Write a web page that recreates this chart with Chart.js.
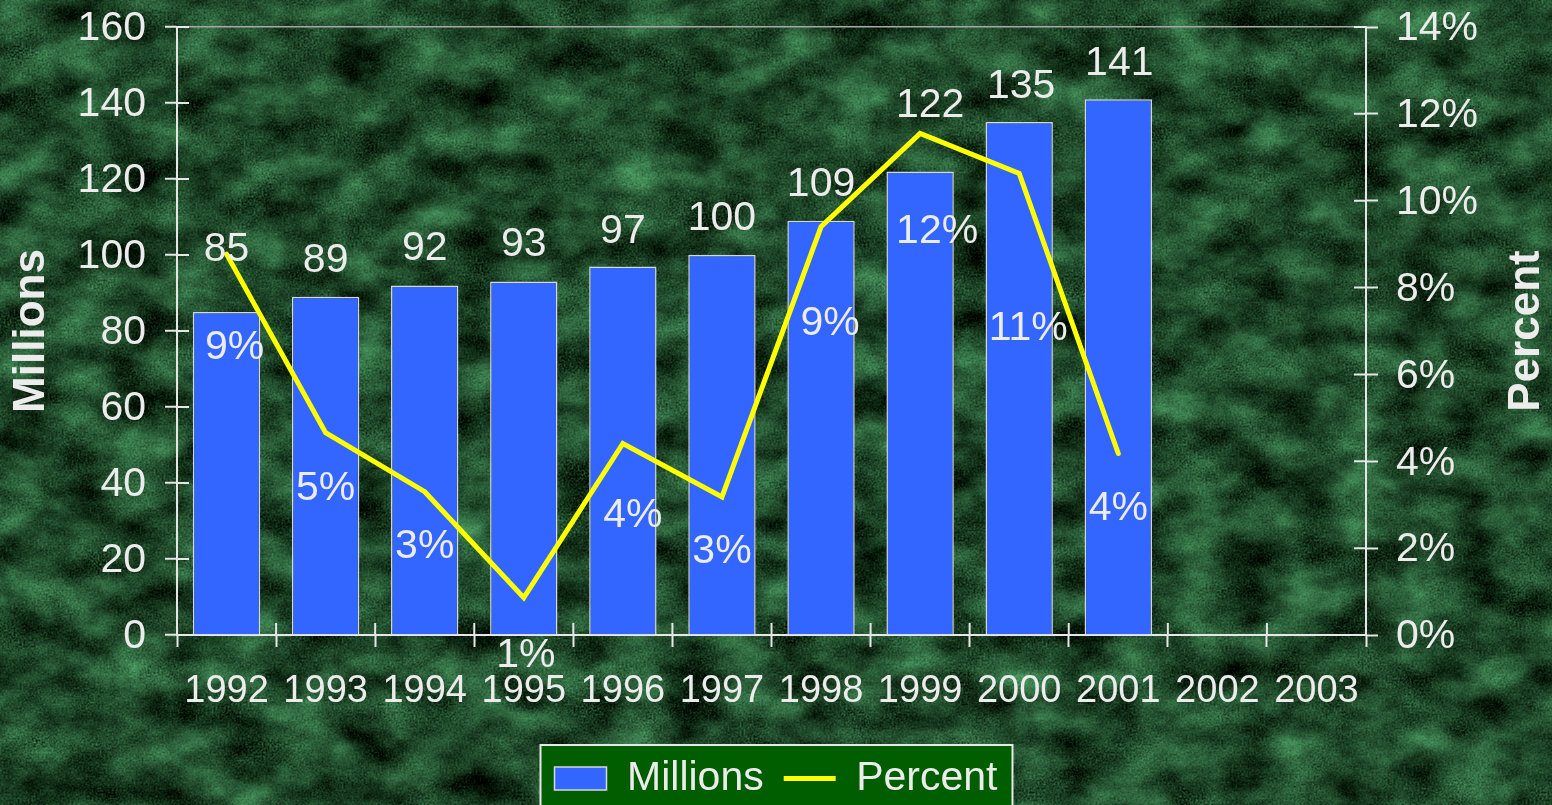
<!DOCTYPE html>
<html>
<head>
<meta charset="utf-8">
<title>Millions and Percent, 1992-2003</title>
<script src="https://cdn.jsdelivr.net/npm/chart.js@4.4.1/dist/chart.umd.min.js"></script>
<style>
  html, body { margin: 0; padding: 0; overflow: hidden; background: #1d4a2c; }
  #wrap { width: 1552px; height: 805px; background-size: 1552px 805px; }
  canvas { display: block; }
</style>
</head>
<body>
<div id="wrap"><canvas id="chart" width="1552" height="805"></canvas></div>
<script>
// categories and series
var years = ["1992", "1993", "1994", "1995", "1996", "1997", "1998", "1999", "2000", "2001", "2002", "2003"];
var millions = [85, 89, 92, 93, 97, 100, 109, 122, 135, 141, null, null];
var percent = [8.77, 4.66, 3.3, 0.86, 4.41, 3.18, 9.4, 11.55, 10.63, 4.18, null, null];

// axis ranges
var millionsAxis = [0, 160, 20];
var percentAxis = [0, 14, 2];

// label nudges in px (value labels sit above bars, percent labels below points)
var millionsLabelDx = [0, 0, 0, 0, 0, 0, 0, 10, 2, 1];
var millionsLabelDy = [-62, -36, -37, -37, -35, -36, -36, -66, -35, -36];
var percentLabelDx = [8, 0, 0, 2, 10, 0, 9, 17, 9, 0];
var percentLabelDy = [94, 56, 55, 58, 72, 55, 97, 98, 155, 55];

var TEXT = "#ececec";
var AXIS = "#e6e6e6";
var FONT = "'Liberation Sans', Arial, sans-serif";

Chart.defaults.font.family = FONT;
Chart.defaults.font.size = 38;
Chart.defaults.color = TEXT;

// marble texture for the page background
var marble =
  "<svg xmlns='http://www.w3.org/2000/svg' width='1552' height='805'>" +
  "<filter id='m' x='0' y='0' width='100%' height='100%' color-interpolation-filters='sRGB'>" +
  "<feTurbulence type='fractalNoise' baseFrequency='0.018 0.026' numOctaves='5' seed='11' result='a'/>" +
  "<feTurbulence type='fractalNoise' baseFrequency='0.5' numOctaves='2' seed='4' result='b'/>" +
  "<feComposite in='a' in2='b' operator='arithmetic' k2='0.7' k3='0.35' k4='-0.03' result='c'/>" +
  "<feColorMatrix in='c' type='matrix' values='0.5 0 0 0 -0.11  0.95 0 0 0 -0.16  0.65 0 0 0 -0.14  0 0 0 0 1'/>" +
  "</filter><rect width='100%' height='100%' filter='url(#m)'/></svg>";
document.getElementById("wrap").style.backgroundImage =
  'url("data:image/svg+xml,' + encodeURIComponent(marble) + '")';

// green box behind the legend
var legendBox = {
  id: "legendBox",
  beforeDraw: function(chart) {
    var boxes = chart.legend.legendHitBoxes;
    if (!boxes || !boxes.length) return;
    var first = boxes[0], last = boxes[boxes.length - 1];
    var left = first.left - 14;
    var right = last.left + last.width + 15;
    var top = first.top - 13;
    var ctx = chart.ctx;
    ctx.save();
    ctx.fillStyle = "#005e00";
    ctx.fillRect(left, top, right - left, chart.height - top + 10);
    ctx.strokeStyle = "#e8e8e8";
    ctx.lineWidth = 2;
    ctx.strokeRect(left, top, right - left, chart.height - top + 10);
    ctx.restore();
  }
};

// tick marks crossing into the plot, right axis title, value labels
var chartExtras = {
  id: "chartExtras",
  afterDatasetsDraw: function(chart) {
    var ctx = chart.ctx;
    var area = chart.chartArea;
    var x = chart.scales.x, y = chart.scales.y, y1 = chart.scales.y1;
    ctx.save();
    ctx.strokeStyle = AXIS;
    ctx.lineWidth = 2;
    ctx.beginPath();
    y.ticks.forEach(function(t, i) {
      var py = y.getPixelForTick(i);
      ctx.moveTo(area.left, py); ctx.lineTo(area.left + 12, py);
    });
    y1.ticks.forEach(function(t, i) {
      var py = y1.getPixelForTick(i);
      ctx.moveTo(area.right - 12, py); ctx.lineTo(area.right, py);
    });
    for (var k = 0; k <= years.length; k++) {
      var px = x.getPixelForValue(k - 0.5);
      ctx.moveTo(px, area.bottom - 12); ctx.lineTo(px, area.bottom);
    }
    ctx.stroke();

    ctx.font = "41px " + FONT;
    ctx.fillStyle = TEXT;
    ctx.textAlign = "center";
    ctx.textBaseline = "middle";
    chart.getDatasetMeta(0).data.forEach(function(bar, i) {
      if (millions[i] == null) return;
      ctx.fillText(String(millions[i]), bar.x + millionsLabelDx[i], bar.y + millionsLabelDy[i]);
    });
    chart.getDatasetMeta(1).data.forEach(function(pt, i) {
      if (percent[i] == null) return;
      ctx.fillText(Math.round(percent[i]) + "%", pt.x + percentLabelDx[i], pt.y + percentLabelDy[i]);
    });
    ctx.restore();
  },
  afterDraw: function(chart) {
    var ctx = chart.ctx;
    var area = chart.chartArea;
    ctx.save();
    ctx.font = "bold 44px " + FONT;
    ctx.fillStyle = TEXT;
    ctx.textAlign = "center";
    ctx.textBaseline = "middle";
    ctx.translate(chart.width - 25, (area.top + area.bottom) / 2);
    ctx.rotate(-Math.PI / 2);
    ctx.fillText("Percent", 0, 0);
    ctx.restore();
  }
};

new Chart(document.getElementById("chart"), {
  type: "bar",
  data: {
    labels: years,
    datasets: [
      {
        label: "Millions",
        data: millions,
        yAxisID: "y",
        order: 2,
        backgroundColor: "#3366ff",
        borderColor: "#d8d8d8",
        borderWidth: 1.5,
        categoryPercentage: 0.68,
        barPercentage: 1
      },
      {
        type: "line",
        label: "Percent",
        data: percent,
        yAxisID: "y1",
        order: 1,
        borderColor: "#ffff00",
        backgroundColor: "#ffff00",
        borderWidth: 5,
        borderCapStyle: "round",
        pointRadius: 0,
        tension: 0,
        fill: false
      }
    ]
  },
  options: {
    responsive: false,
    animation: false,
    layout: { padding: { top: 27, left: 0, right: 0, bottom: -4 } },
    plugins: {
      tooltip: { enabled: false },
      legend: {
        position: "bottom",
        labels: {
          color: TEXT,
          font: { size: 41 },
          padding: 20,
          usePointStyle: true,
          pointStyleWidth: 52,
          boxHeight: 23,
          sort: function(a, b) { return a.datasetIndex - b.datasetIndex; },
          generateLabels: function(chart) {
            var items = Chart.defaults.plugins.legend.labels.generateLabels(chart);
            items.forEach(function(item) {
              item.pointStyle = item.datasetIndex === 0 ? "rect" : "line";
            });
            return items;
          }
        }
      }
    },
    scales: {
      x: {
        grid: { drawOnChartArea: false, tickLength: 12, tickColor: AXIS, tickWidth: 2 },
        border: { color: AXIS, width: 2 },
        ticks: { color: TEXT, padding: 22, maxRotation: 0, autoSkip: false, font: { size: 38 } },
        afterFit: function(scale) { scale.height = 103; }
      },
      y: {
        position: "left",
        min: millionsAxis[0],
        max: millionsAxis[1],
        ticks: { stepSize: millionsAxis[2], color: TEXT, padding: 19, labelOffset: 2, font: { size: 41 } },
        grid: {
          tickLength: 12,
          tickColor: AXIS,
          tickWidth: 2,
          lineWidth: 1.5,
          color: function(c) { return c.tick && c.tick.value === millionsAxis[1] ? "#a8a8a8" : "rgba(0,0,0,0)"; }
        },
        border: { color: AXIS, width: 2 },
        title: {
          display: true,
          text: "Millions",
          color: TEXT,
          font: { size: 44, weight: "bold" },
          padding: { top: 5, bottom: 0 }
        },
        afterFit: function(scale) { scale.width = 177; scale.paddingTop = 0; }
      },
      y1: {
        position: "right",
        min: percentAxis[0],
        max: percentAxis[1],
        ticks: {
          stepSize: percentAxis[2],
          color: TEXT,
          padding: 18,
          labelOffset: 2,
          font: { size: 41 },
          callback: function(v) { return v + "%"; }
        },
        grid: { drawOnChartArea: false, tickLength: 12, tickColor: AXIS, tickWidth: 2 },
        border: { color: AXIS, width: 2 },
        afterFit: function(scale) { scale.width = 186; scale.paddingTop = 0; }
      }
    }
  },
  plugins: [legendBox, chartExtras]
});
</script>
</body>
</html>
